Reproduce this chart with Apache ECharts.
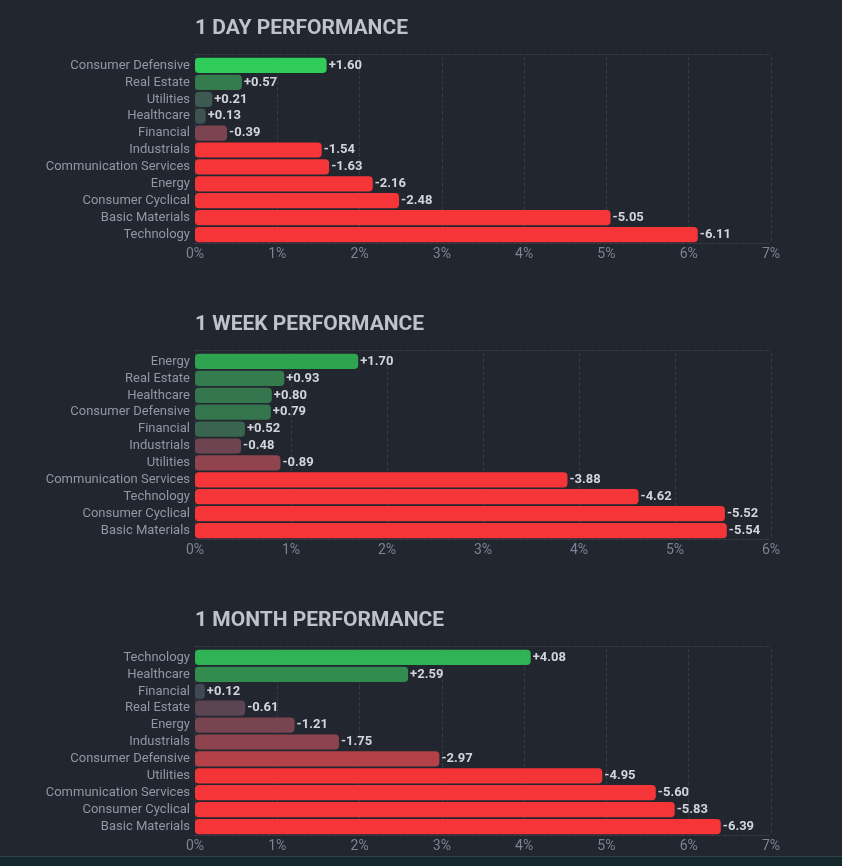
<!DOCTYPE html>
<html>
<head>
<meta charset="utf-8">
<script src="https://cdn.jsdelivr.net/npm/echarts@6/dist/echarts.min.js"></script>
<style>
html,body{margin:0;padding:0;background:#22262f;}
#chart{width:842px;height:866px;}
</style>
</head>
<body>
<div id="chart"></div>
<script>
// ---- data ----
const dayCategories = ['Consumer Defensive','Real Estate','Utilities','Healthcare','Financial','Industrials','Communication Services','Energy','Consumer Cyclical','Basic Materials','Technology'];
const dayValues = [1.60,0.57,0.21,0.13,-0.39,-1.54,-1.63,-2.16,-2.48,-5.05,-6.11];
const weekCategories = ['Energy','Real Estate','Healthcare','Consumer Defensive','Financial','Industrials','Utilities','Communication Services','Technology','Consumer Cyclical','Basic Materials'];
const weekValues = [1.70,0.93,0.80,0.79,0.52,-0.48,-0.89,-3.88,-4.62,-5.52,-5.54];
const monthCategories = ['Technology','Healthcare','Financial','Real Estate','Energy','Industrials','Consumer Defensive','Utilities','Communication Services','Consumer Cyclical','Basic Materials'];
const monthValues = [4.08,2.59,0.12,-0.61,-1.21,-1.75,-2.97,-4.95,-5.60,-5.83,-6.39];
const titles = ['1 DAY PERFORMANCE','1 WEEK PERFORMANCE','1 MONTH PERFORMANCE'];
const axisMax = [7,6,7];

// ---- styling ----
const FONT = 'Roboto';
const palette = ['#f63538','#bf4045','#8b444e','#414554','#35764e','#2f9e4f','#30cc5a'];
const colorScale = [0.5,0.8,1.667];
function hex2rgb(h){return [1,3,5].map(i=>parseInt(h.substr(i,2),16));}
function colorFor(v,f){
  let l = Math.max(-3,Math.min(3,v/f))+3;
  let i = Math.min(5,Math.floor(l)); let t = l-i;
  const a = hex2rgb(palette[i]), b = hex2rgb(palette[i+1]);
  const c = a.map((x,k)=>Math.round(x+(b[k]-x)*t));
  return 'rgb('+c.join(',')+')';
}

const sets = [
  {cats:dayCategories, vals:dayValues},
  {cats:weekCategories, vals:weekValues},
  {cats:monthCategories, vals:monthValues}
];
const tops = [54,350,646];
const gridColor = '#363a46';

const option = {
  backgroundColor:'#22262f',
  animation:false,
  textStyle:{fontFamily:FONT},
  title:[], grid:[], xAxis:[], yAxis:[], series:[],
  graphic:[
    {type:'rect', shape:{x:0,y:856,width:842,height:10}, style:{fill:'#13272c'}, silent:true},
    {type:'line', shape:{x1:0,y1:856.5,x2:842,y2:856.5}, style:{stroke:'#34404a',lineWidth:1}, silent:true}
  ]
};

sets.forEach((s,gi)=>{
  option.title.push({
    text:titles[gi], left:190, top:tops[gi]-41,
    textStyle:{color:'#bfc2cc',fontSize:21,fontWeight:'bold',fontFamily:FONT}
  });
  option.grid.push({left:195,right:71,top:tops[gi]+3,height:186,containLabel:false});
  option.xAxis.push({
    type:'value', gridIndex:gi, min:0, max:axisMax[gi], interval:1,
    axisLine:{show:true,lineStyle:{color:gridColor,type:'dashed'}},
    axisTick:{show:false},
    axisLabel:{color:'#7e8292',fontSize:14,margin:4,formatter:'{value}%',fontFamily:FONT},
    splitLine:{show:true,lineStyle:{color:gridColor,type:'dashed'}}
  });
  option.xAxis.push({
    type:'value', gridIndex:gi, position:'top', offset:3, min:0, max:axisMax[gi], interval:1,
    axisLine:{show:true,lineStyle:{color:gridColor,type:'dashed'}},
    axisTick:{show:false}, axisLabel:{show:false}, splitLine:{show:false}
  });
  option.yAxis.push({
    type:'category', gridIndex:gi, data:s.cats, inverse:true,
    axisLine:{show:false}, axisTick:{show:false},
    axisLabel:{color:'#9296a6',fontSize:13,margin:5,fontFamily:FONT},
    splitLine:{show:false}
  });
  option.series.push({
    type:'bar', xAxisIndex:gi*2, yAxisIndex:gi,
    barCategoryGap:'10%',
    data:s.vals.map(v=>({value:Math.abs(v), raw:v, itemStyle:{color:colorFor(v,colorScale[gi])}})),
    itemStyle:{borderRadius:4},
    label:{
      show:true, position:'right', distance:2,
      color:'#d2d5dc', fontSize:13, fontWeight:'bold', fontFamily:FONT,
      formatter:p=>{const v=p.data.raw; return (v>0?'+':'')+v.toFixed(2);}
    }
  });
});

const chart = echarts.init(document.getElementById('chart'));
chart.setOption(option);
</script>
</body>
</html>
